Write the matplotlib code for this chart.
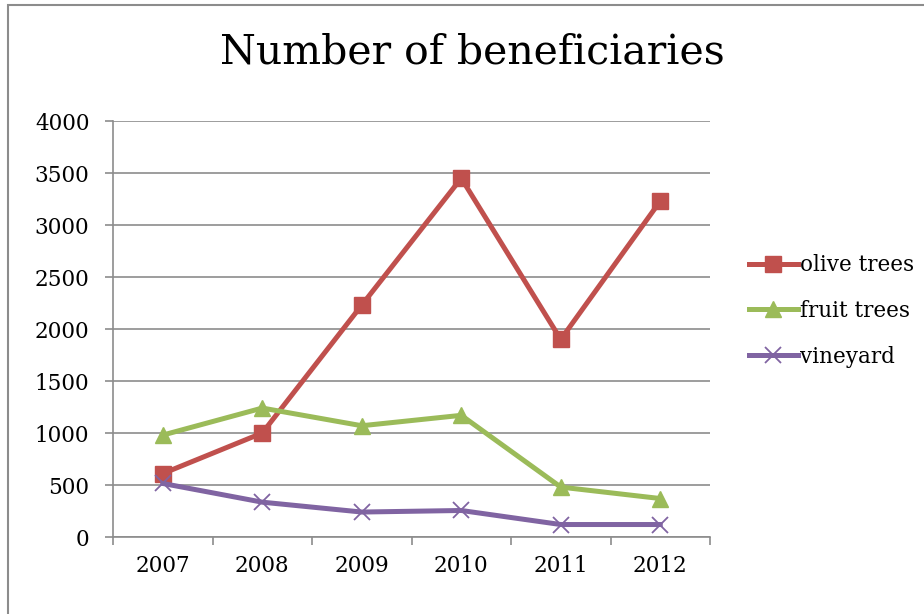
import matplotlib.pyplot as plt
from matplotlib.patches import Rectangle

years = ['2007', '2008', '2009', '2010', '2011', '2012']
olive_trees = [610, 1000, 2230, 3450, 1900, 3230]
fruit_trees = [980, 1240, 1070, 1170, 480, 370]
vineyard = [515, 335, 240, 255, 120, 120]

plt.rcParams['font.family'] = ['DejaVu Serif']

fig = plt.figure(figsize=(9.24, 6.14), dpi=100)
ax = fig.add_axes([0.1223, 0.1254, 0.6461, 0.6775])

# outer chart frame
fig.patches.append(Rectangle((8 / 924, -0.05), 1.1, 1 - 5 / 614 + 0.05,
                             transform=fig.transFigure, fill=False,
                             edgecolor='#8c8c8c', linewidth=1.5))

x = [i + 0.5 for i in range(len(years))]
ax.plot(x, olive_trees, color='#C0504D', lw=3.6, marker='s', ms=11,
        label='olive trees')
ax.plot(x, fruit_trees, color='#9BBB59', lw=3.6, marker='^', ms=12,
        label='fruit trees')
ax.plot(x, vineyard, color='#8064A2', lw=3.6, marker='x', ms=11, mew=1.3,
        label='vineyard')

ax.set_xlim(0, 6)
ax.set_ylim(0, 4000)
ax.set_yticks(range(0, 4001, 500))
ax.yaxis.grid(True, color='#8c8c8c', lw=1.2)
ax.set_axisbelow(True)

ax.set_xticks(range(0, 7))
ax.set_xticklabels([])
ax.set_xticks(x, minor=True)
ax.set_xticklabels(years, minor=True)
ax.tick_params(axis='x', which='minor', length=0, pad=13, labelsize=15.5)
ax.tick_params(axis='x', which='major', length=6, width=1.2, color='#8c8c8c')
ax.tick_params(axis='y', length=6, width=1.2, color='#8c8c8c', labelsize=15.5,
               pad=11)

for s in ['top', 'right']:
    ax.spines[s].set_visible(False)
for s in ['left', 'bottom']:
    ax.spines[s].set_color('#8c8c8c')
    ax.spines[s].set_linewidth(1.2)

fig.text(472 / 924, 1 - 53 / 614, 'Number of beneficiaries', fontsize=29.5,
         ha='center', va='center')

fig.legend(loc='center left', bbox_to_anchor=(740 / 924, 1 - 311 / 614),
           frameon=False, fontsize=15.5, handlelength=2.3, handletextpad=0.1,
           labelspacing=1.1, borderaxespad=0)

fig.savefig('out.png', dpi=100)
